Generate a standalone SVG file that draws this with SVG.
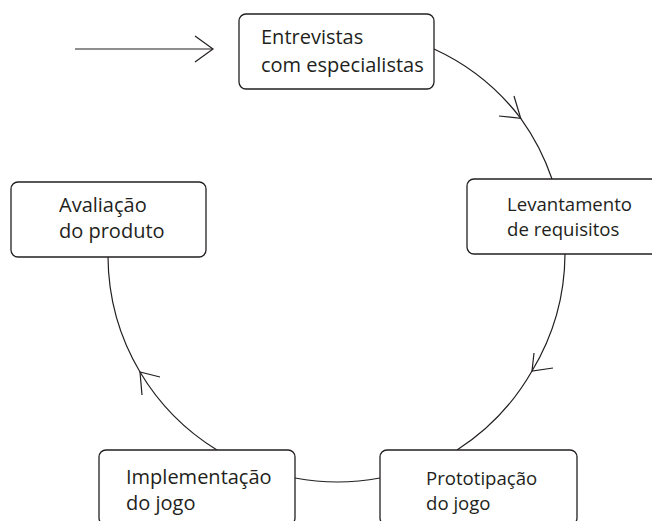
<svg xmlns="http://www.w3.org/2000/svg" width="652" height="521" viewBox="0 0 652 521">
<style>
.box{fill:#fff;stroke:#231f20;stroke-width:1.3}
.lbl{font-family:"Open Sans","Noto Sans","Liberation Sans",sans-serif;font-size:20px;fill:#231f20}
.sm{font-size:18.6px}
.edge{fill:none;stroke:#231f20;stroke-width:1.2}
.head{fill:none;stroke:#231f20;stroke-width:1.2;stroke-linejoin:miter}
</style>
<rect width="652" height="521" fill="#fff"/>
<g id="connectors">
<path class="edge" d="M75,49 H213"/>
<path class="head" d="M195,36 L213,49 L195,62"/>
<path class="edge" d="M434,49 A229,229 0 0 1 520.7,118.3 A229,229 0 0 1 552,179"/>
<path class="head" d="M499,116 L520.7,118.3 L514,96"/>
<path class="edge" d="M565,254 A229,229 0 0 1 532,371 A229,229 0 0 1 457,450"/>
<path class="head" d="M553,368 L532,371 L534,353"/>
<path class="edge" d="M380,478 A229,229 0 0 1 295,478"/>
<path class="edge" d="M217,450 A229,229 0 0 1 140,372 A229,229 0 0 1 108,257"/>
<path class="head" d="M160,377 L140,372 L142,395"/>
</g>
<g id="node-entrevistas">
<rect class="box" x="239" y="14" width="195" height="75" rx="7"/>
<text class="lbl" x="261" y="44">Entrevistas</text>
<text class="lbl" x="261" y="72">com especialistas</text>
</g>
<g id="node-levantamento">
<rect class="box" x="467" y="179" width="195" height="75" rx="7"/>
<text class="lbl sm" x="507" y="211">Levantamento</text>
<text class="lbl sm" x="507" y="236">de requisitos</text>
</g>
<g id="node-prototipacao">
<rect class="box" x="380" y="450" width="197" height="75" rx="7"/>
<text class="lbl sm" x="426" y="485">Prototipação</text>
<text class="lbl sm" x="426" y="510">do jogo</text>
</g>
<g id="node-implementacao">
<rect class="box" x="99" y="450" width="196" height="75" rx="7"/>
<text class="lbl" x="126" y="484">Implementação</text>
<text class="lbl" x="126" y="510">do jogo</text>
</g>
<g id="node-avaliacao">
<rect class="box" x="11" y="182" width="195" height="75" rx="7"/>
<text class="lbl" x="59" y="212">Avaliação</text>
<text class="lbl" x="59" y="238">do produto</text>
</g>
</svg>
